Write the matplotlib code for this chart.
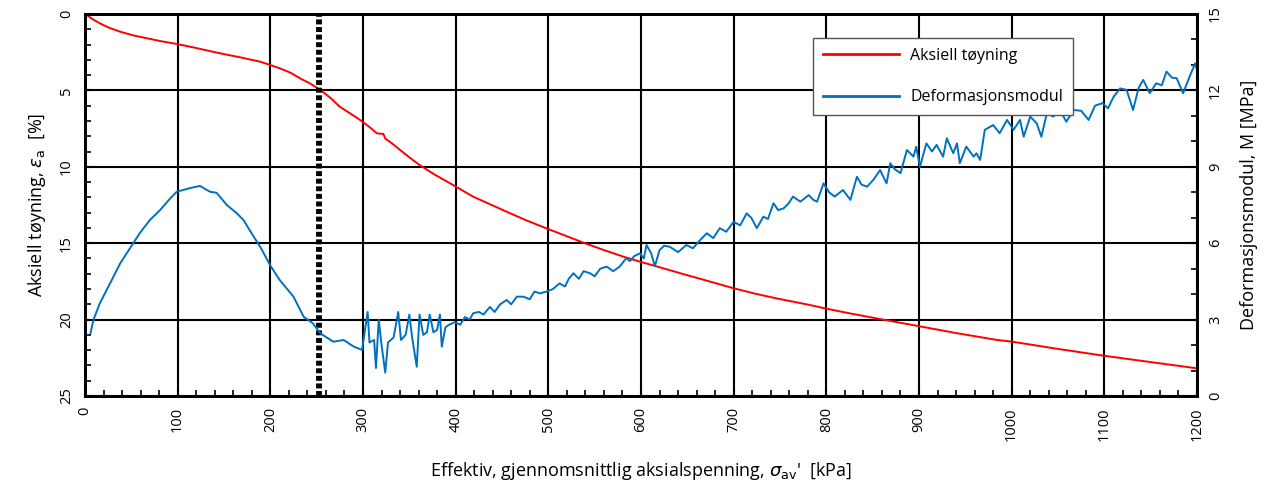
import matplotlib
matplotlib.use("Agg")
import matplotlib.pyplot as plt
from matplotlib.ticker import MultipleLocator

plt.rcParams['font.family'] = ['Open Sans', 'DejaVu Sans']
plt.rcParams['mathtext.fontset'] = 'dejavusans'

# Axial strain (red) vs effective mean axial stress
strain_x = [0, 2, 8, 16, 26, 38, 52, 67, 82, 99, 118, 138, 152, 167, 189, 200,
            210, 222, 232, 243, 254, 265, 275, 286, 297, 306, 315, 322, 324,
            332, 340, 350, 361, 377, 394, 419, 437, 455, 476, 498, 518, 538,
            560, 581, 599, 625, 649, 675, 700, 723, 746, 782, 798, 826, 854,
            899, 940, 984, 1000, 1050, 1099, 1150, 1200]
strain_y = [0.0, 0.07, 0.33, 0.61, 0.90, 1.16, 1.40, 1.59, 1.78, 1.96, 2.20,
            2.47, 2.65, 2.83, 3.12, 3.34, 3.55, 3.85, 4.21, 4.55, 4.97, 5.50,
            6.07, 6.50, 6.94, 7.35, 7.81, 7.85, 8.15, 8.50, 8.90, 9.38, 9.88,
            10.50, 11.08, 11.96, 12.45, 12.94, 13.50, 14.03, 14.50, 14.97,
            15.45, 15.88, 16.21, 16.66, 17.08, 17.52, 17.95, 18.30, 18.61,
            19.04, 19.26, 19.60, 19.92, 20.42, 20.88, 21.33, 21.44, 21.92,
            22.36, 22.78, 23.19]

# Deformation modulus (blue)
mod_x = [6, 9, 16, 27, 38, 52, 59, 70, 81, 92, 99, 113, 124, 135, 142, 153,
         164, 171, 182, 190, 200, 210, 225, 236, 246, 254, 268, 279, 290, 299,
         305, 307, 312, 314, 317, 320, 324, 327, 333, 338, 341, 346, 350, 353,
         358, 361, 365, 369, 372, 376, 380, 383, 385, 389, 393, 399, 405, 410,
         415, 419, 425, 430, 437, 442, 448, 455, 460, 466, 473, 480, 485, 491,
         498, 505, 512, 518, 522, 527, 533, 538, 545, 550, 556, 563, 570, 577,
         584, 588, 593, 599, 603, 606, 611, 615, 620, 625, 631, 640, 649, 656,
         664, 671, 678, 685, 692, 700, 707, 714, 719, 725, 732, 737, 743, 748,
         754, 759, 764, 772, 781, 786, 790, 797, 803, 809, 818, 826, 833, 838,
         844, 851, 858, 865, 869, 874, 880, 887, 894, 897, 901, 908, 914, 919,
         926, 930, 937, 941, 944, 951, 959, 962, 966, 971, 980, 987, 995, 1002,
         1009, 1013, 1020, 1027, 1032, 1038, 1045, 1052, 1059, 1067, 1075, 1083,
         1090, 1098, 1104, 1110, 1117, 1124, 1131, 1137, 1142, 1149, 1156, 1162,
         1167, 1173, 1178, 1185, 1192, 1198, 1200]
mod_y = [2.47, 2.98, 3.64, 4.42, 5.21, 6.0, 6.39, 6.91, 7.30, 7.76, 8.02, 8.16,
         8.25, 8.02, 7.98, 7.50, 7.17, 6.91, 6.26, 5.80, 5.12, 4.56, 3.90, 3.11,
         2.85, 2.46, 2.13, 2.20, 1.94, 1.81, 3.30, 2.10, 2.20, 1.10, 3.00, 2.00,
         0.92, 2.10, 2.30, 3.30, 2.20, 2.40, 3.20, 2.30, 1.15, 3.20, 2.40, 2.50,
         3.20, 2.50, 2.60, 3.20, 1.94, 2.70, 2.80, 2.90, 2.80, 3.10, 3.00, 3.25,
         3.30, 3.20, 3.50, 3.30, 3.60, 3.77, 3.60, 3.90, 3.90, 3.80, 4.10, 4.03,
         4.10, 4.20, 4.42, 4.30, 4.60, 4.82, 4.60, 4.90, 4.82, 4.70, 5.00, 5.08,
         4.90, 5.08, 5.41, 5.30, 5.50, 5.60, 5.40, 5.93, 5.60, 5.10, 5.73, 5.90,
         5.86, 5.65, 5.93, 5.80, 6.13, 6.39, 6.20, 6.59, 6.45, 6.84, 6.70, 7.17,
         7.00, 6.59, 7.04, 6.95, 7.57, 7.30, 7.37, 7.55, 7.83, 7.63, 7.89, 7.70,
         7.63, 8.35, 8.00, 7.83, 8.09, 7.70, 8.61, 8.30, 8.22, 8.50, 8.87, 8.35,
         9.14, 8.90, 8.75, 9.66, 9.40, 9.79, 9.00, 9.92, 9.60, 9.86, 9.40, 10.12,
         9.53, 9.92, 9.14, 9.79, 9.40, 9.53, 9.27, 10.45, 10.64, 10.32, 10.84,
         10.45, 10.84, 10.18, 10.97, 10.71, 10.18, 11.10, 10.97, 11.23, 10.77,
         11.23, 11.20, 10.84, 11.40, 11.50, 11.30, 11.75, 12.08, 12.02, 11.23,
         12.10, 12.41, 11.89, 12.28, 12.20, 12.74, 12.50, 12.48, 11.89, 12.54,
         13.06, 12.80]

threshold_x = 252

x_ticks = list(range(0, 1201, 100))
strain_ticks = [0, 5, 10, 15, 20, 25]
mod_ticks = [0, 3, 6, 9, 12, 15]

fig = plt.figure(figsize=(12.82, 4.90), dpi=100)
ax = fig.add_axes([85/1282, 94/490, 1112/1282, 382/490])
ax2 = ax.twinx()

ax.set_xlim(0, 1200)
ax.set_ylim(25, 0)
ax2.set_ylim(0, 15)

ax.grid(True, which='major', color='black', linewidth=1.5)
ax.set_axisbelow(True)

l1, = ax.plot(strain_x, strain_y, color='#FF0000', linewidth=1.4, label='Aksiell tøyning')
ax.plot([threshold_x, threshold_x], [25, 0], color='black', linewidth=4.2,
        linestyle=(0, (0.85, 0.45)), zorder=3)
l2, = ax2.plot(mod_x, mod_y, color='#0070C0', linewidth=1.4, label='Deformasjonsmodul')

ax.set_xticks(x_ticks)
ax.set_xticklabels([str(v) for v in x_ticks], rotation=90)
ax.set_yticks(strain_ticks)
ax.set_yticklabels([str(v) for v in strain_ticks], rotation=90, va='center')
ax2.set_yticks(mod_ticks)
ax2.set_yticklabels([str(v) for v in mod_ticks], rotation=90, va='center')

ax.xaxis.set_minor_locator(MultipleLocator(20))
ax.yaxis.set_minor_locator(MultipleLocator(1))
ax2.yaxis.set_minor_locator(MultipleLocator(1))

for a in (ax, ax2):
    a.tick_params(which='major', direction='in', length=5, width=1.5, labelsize=10.5,
                  colors='black', pad=8)
    a.tick_params(which='minor', direction='in', length=4, width=1.2)
    for s in a.spines.values():
        s.set_linewidth(2)
        s.set_color('black')

ax.set_ylabel(r"Aksiell tøyning, $\varepsilon_{\rm a}$  [%]", fontsize=13, labelpad=8)
ax2.set_ylabel("Deformasjonsmodul, M [MPa]", fontsize=13, labelpad=12)
ax.set_xlabel(r"Effektiv, gjennomsnittlig aksialspenning, $\sigma_{\rm av}$'  [kPa]",
              fontsize=13, labelpad=14)

leg = ax2.legend(handles=[l1, l2], loc='upper left',
                 bbox_to_anchor=(813/1282, 1 - 38/490), bbox_transform=fig.transFigure,
                 fontsize=11.5, handlelength=4.8, labelspacing=1.6, borderpad=0.6,
                 handletextpad=0.7, fancybox=False, shadow=False, framealpha=1,
                 edgecolor='#555555', borderaxespad=0)
leg.get_frame().set_linewidth(1.0)
for h in leg.get_lines():
    h.set_linewidth(2)

fig.savefig("out.png", dpi=100)
